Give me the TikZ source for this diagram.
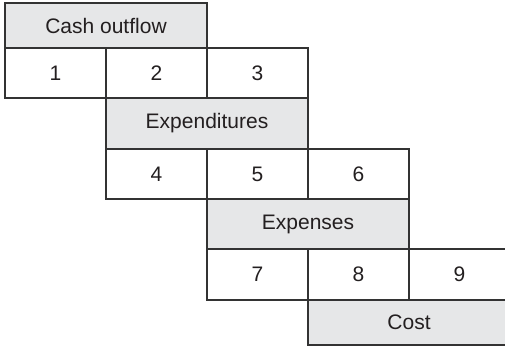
\documentclass[tikz,border=0pt]{standalone}
\usepackage{fontspec}
\setmainfont{Liberation Sans}
\definecolor{linec}{HTML}{333333}
\definecolor{boxgray}{HTML}{E6E7E8}
\definecolor{textc}{HTML}{231F20}
\begin{document}
\begin{tikzpicture}[x=1pt,y=-1pt,
  cell/.style={draw=linec, line width=1.3pt, inner sep=0pt, outer sep=0pt,
    fill=white, text=textc, font=\fontsize{21}{24}\selectfont},
  graycell/.style={cell, fill=boxgray},
  sz/.style 2 args={minimum width=#1pt, minimum height=#2pt}]
\useasboundingbox (0,0) rectangle (505,346);
\clip (0,0) rectangle (505,346);

% level 1: cash outflow
\node[graycell, sz={202}{45}] (cash) at (106,25.5) {Cash outflow};
\node[cell, sz={101}{50}] (c1) at (55.5,73) {1};
\node[cell, sz={101}{50}] (c2) at (156.5,73) {2};
\node[cell, sz={101}{50}] (c3) at (257.5,73) {3};

% level 2: expenditures
\node[graycell, sz={202}{51}] (expd) at (207,123.5) {Expenditures};
\node[cell, sz={101}{50}] (c4) at (156.5,174) {4};
\node[cell, sz={101}{50}] (c5) at (257.5,174) {5};
\node[cell, sz={101}{50}] (c6) at (358.5,174) {6};

% level 3: expenses
\node[graycell, sz={202}{50}] (exps) at (308,224) {Expenses};
\node[cell, sz={101}{51}] (c7) at (257.5,274.5) {7};
\node[cell, sz={101}{51}] (c8) at (358.5,274.5) {8};
\node[cell, sz={101}{51}] (c9) at (459.5,274.5) {9};

% level 4: cost
\node[graycell, sz={202}{45}] (cost) at (409,322.5) {Cost};
\end{tikzpicture}
\end{document}
